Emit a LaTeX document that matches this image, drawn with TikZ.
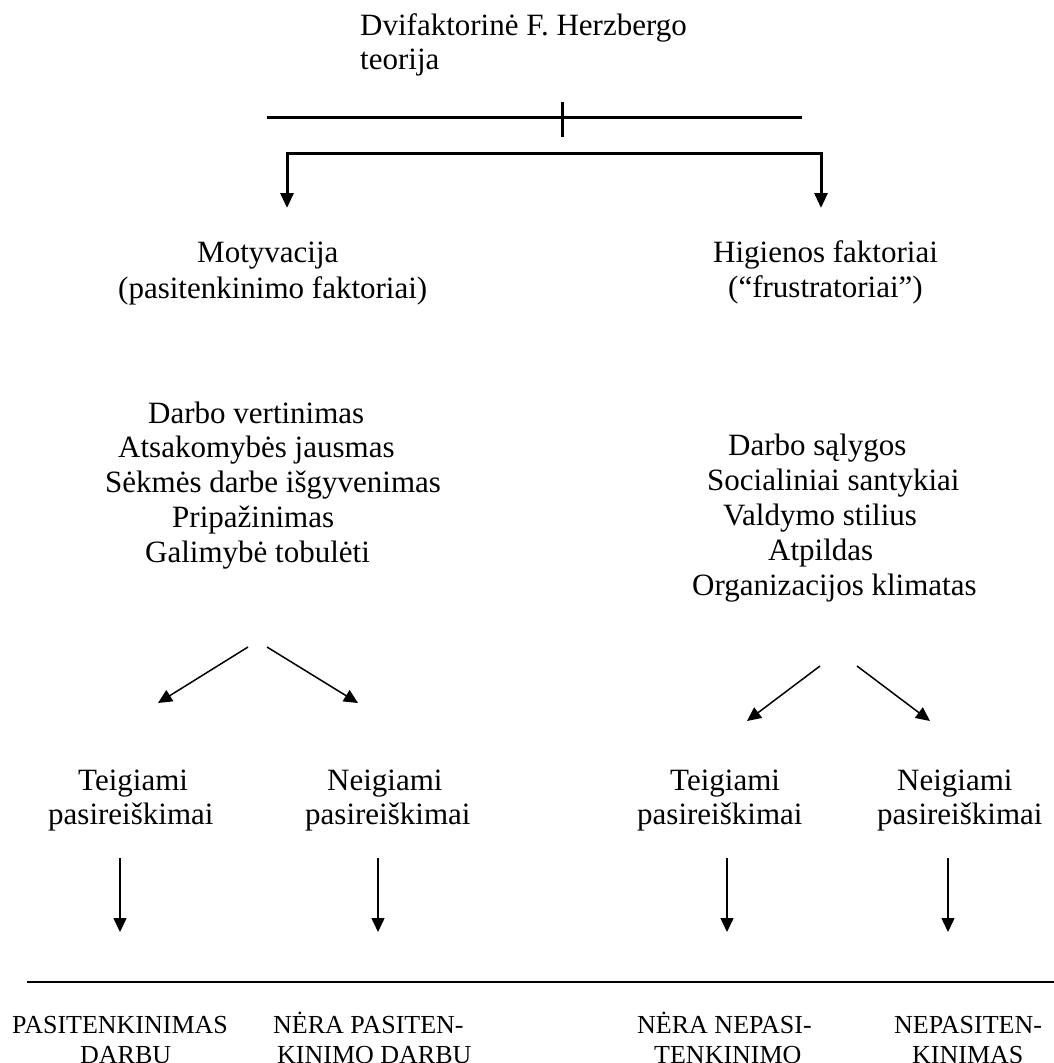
\documentclass[tikz,border=0pt]{standalone}
\usepackage{fontspec}
\setmainfont{Liberation Serif}
\usetikzlibrary{arrows.meta}
\begin{document}
\begin{tikzpicture}[x=1pt,y=-1pt,
  txt/.style={inner sep=0pt,anchor=base west,font=\fontsize{31}{35}\selectfont},
  outtxt/.style={inner sep=0pt,anchor=base west,font=\fontsize{26}{29}\selectfont},
  heavy/.style={line width=3pt},
  brk/.style={line width=3pt,line join=miter,{Triangle[length=15pt,width=13pt]}-{Triangle[length=15pt,width=13pt]}},
  arr/.style={line width=1.5pt,-{Triangle[length=14pt,width=13pt]}},
  ruleline/.style={line width=2pt}]
\useasboundingbox (0,0) rectangle (1054,1063);
% title
\node[txt] (t1) at (360,35) {Dvifaktorinė F. Herzbergo};
\node[txt] (t2) at (360,69) {teorija};
% top line with tick
\coordinate (hl) at (267,117);
\coordinate (hr) at (802,117);
\coordinate (tk1) at (562,102);
\coordinate (tk2) at (562,137);
\draw[heavy] (hl) -- (hr);
\draw[heavy] (tk1) -- (tk2);
% bracket
\coordinate (brL) at (287,153);
\coordinate (brR) at (821,153);
\coordinate (arL) at (287,208);
\coordinate (arR) at (821,208);
\draw[brk] (arL) -- (brL) -- (brR) -- (arR);
% headings
\node[txt] (m1) at (197,262) {Motyvacija};
\node[txt] (m2) at (118,298) {(pasitenkinimo faktoriai)};
\node[txt] (h1) at (713,262) {Higienos faktoriai};
\node[txt] (h2) at (728,297) {(“frustratoriai”)};
% left list
\node[txt] (l1) at (148,423) {Darbo vertinimas};
\node[txt] (l2) at (118,457) {Atsakomybės jausmas};
\node[txt] (l3) at (105,492) {Sėkmės darbe išgyvenimas};
\node[txt] (l4) at (172,527) {Pripažinimas};
\node[txt] (l5) at (145,562) {Galimybė tobulėti};
% right list
\node[txt] (r1) at (728,455) {Darbo sąlygos};
\node[txt] (r2) at (707,490) {Socialiniai santykiai};
\node[txt] (r3) at (723,525) {Valdymo stilius};
\node[txt] (r4) at (768,560) {Atpildas};
\node[txt] (r5) at (692,595) {Organizacijos klimatas};
% diagonal arrows
\coordinate (dl1s) at (248,647);
\coordinate (dl1e) at (158,703);
\coordinate (dl2s) at (267,647);
\coordinate (dl2e) at (358,703);
\coordinate (dr1s) at (820,666);
\coordinate (dr1e) at (747,721);
\coordinate (dr2s) at (857,666);
\coordinate (dr2e) at (930,721);
\draw[arr] (dl1s) -- (dl1e);
\draw[arr] (dl2s) -- (dl2e);
\draw[arr] (dr1s) -- (dr1e);
\draw[arr] (dr2s) -- (dr2e);
% second-level labels
\node[txt] (a1) at (78,790) {Teigiami};
\node[txt] (a2) at (48,824) {pasireiškimai};
\node[txt] (b1) at (327,790) {Neigiami};
\node[txt] (b2) at (305,824) {pasireiškimai};
\node[txt] (c1) at (670,790) {Teigiami};
\node[txt] (c2) at (637,824) {pasireiškimai};
\node[txt] (d1) at (897,790) {Neigiami};
\node[txt] (d2) at (877,824) {pasireiškimai};
% vertical arrows
\coordinate (va1) at (120,858);
\coordinate (va2) at (120,932);
\coordinate (vb1) at (378,858);
\coordinate (vb2) at (378,932);
\coordinate (vc1) at (727,858);
\coordinate (vc2) at (727,932);
\coordinate (vd1) at (948,858);
\coordinate (vd2) at (948,932);
\draw[arr] (va1) -- (va2);
\draw[arr] (vb1) -- (vb2);
\draw[arr] (vc1) -- (vc2);
\draw[arr] (vd1) -- (vd2);
% bottom rule
\coordinate (bl) at (27,982);
\coordinate (br) at (1054,982);
\draw[ruleline] (bl) -- (br);
% outcomes
\node[outtxt] (o1) at (12,1033) {PASITENKINIMAS};
\node[outtxt] (o2) at (80,1063) {DARBU};
\node[outtxt] (p1) at (273,1033) {NĖRA PASITEN-};
\node[outtxt] (p2) at (277,1063) {KINIMO DARBU};
\node[outtxt] (q1) at (637,1033) {NĖRA NEPASI-};
\node[outtxt] (q2) at (654,1063) {TENKINIMO};
\node[outtxt] (s1) at (894,1033) {NEPASITEN-};
\node[outtxt] (s2) at (912,1063) {KINIMAS};
\end{tikzpicture}
\end{document}
